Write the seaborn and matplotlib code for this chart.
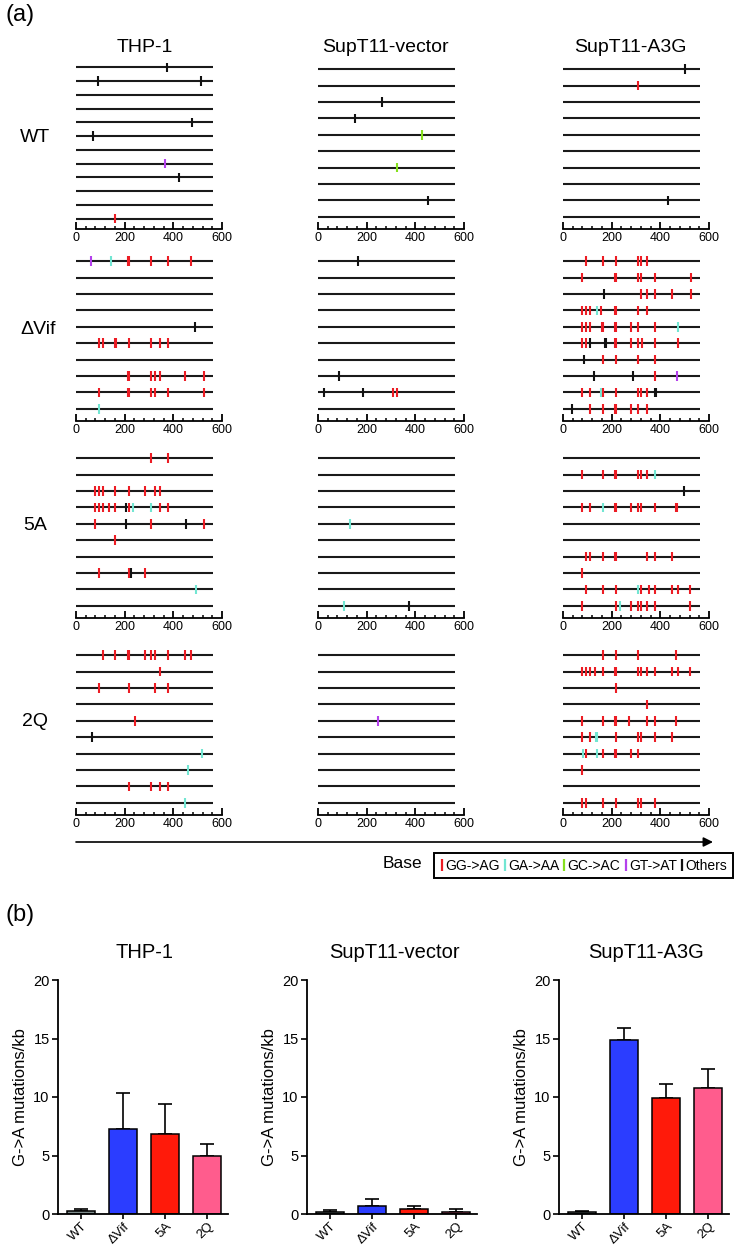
import numpy as np
import pandas as pd
import seaborn as sns
import matplotlib.pyplot as plt
from matplotlib.patches import Rectangle
from matplotlib.ticker import MultipleLocator

sns.set_theme(style="ticks")
plt.rcParams['font.family'] = ['Liberation Sans', 'DejaVu Sans']
plt.rcParams.update({"text.color": "black", "axes.labelcolor": "black",
                     "xtick.color": "black", "ytick.color": "black"})

W, H = 735, 1247

cells = ["THP-1", "SupT11-vector", "SupT11-A3G"]
viruses = ["WT", "ΔVif", "5A", "2Q"]
mut_labels = ["GG->AG", "GA->AA", "GC->AC", "GT->AT", "Others"]
mut_codes = ["r", "c", "g", "p", "k"]
mut_colors = {"r": "#ec1c24", "c": "#72e6d2", "g": "#86e01e", "p": "#b440ec", "k": "#111111"}
clone_len = 565

# (a) mutations found in each sequenced clone: (base position, type code)
thp1_wt = [
    [(375, "k")], [(89, "k"), (514, "k")], [], [], [(476, "k")], [(71, "k")],
    [], [(365, "p")], [(423, "k")], [], [], [(162, "r")],
]
vector_wt = [[], [], [(264, "k")], [(150, "k")], [(428, "g")], [], [(325, "g")], [], [(453, "k")], []]
a3g_wt = [[(503, "k")], [(310, "r")], [], [], [], [], [], [], [(431, "k")], []]

thp1_dvif = [
    [(61, "p"), (142, "c"), (214, "r"), (218, "r"), (310, "r"), (378, "r"), (472, "r")],
    [], [], [],
    [(490, "k")],
    [(95, "r"), (112, "r"), (161, "r"), (166, "r"), (217, "r"), (310, "r"), (344, "r"), (378, "r")],
    [],
    [(214, "r"), (218, "r"), (310, "r"), (323, "r"), (344, "r"), (446, "r"), (524, "r")],
    [(95, "r"), (214, "r"), (218, "r"), (310, "r"), (323, "r"), (378, "r"), (524, "r")],
    [(95, "c")],
]
vector_dvif = [[(165, "k")], [], [], [], [], [], [], [(85, "k")],
               [(25, "k"), (185, "k"), (310, "r"), (323, "r")], []]
a3g_dvif = [
    [(94, "r"), (163, "r"), (216, "r"), (310, "r"), (320, "r"), (344, "r")],
    [(78, "r"), (213, "r"), (216, "r"), (310, "r"), (321, "r"), (379, "r"), (525, "r")],
    [(170, "k"), (321, "r"), (344, "r"), (379, "r"), (448, "r"), (525, "r")],
    [(78, "r"), (94, "r"), (109, "r"), (141, "c"), (158, "r"), (213, "r"), (216, "r"), (310, "r"), (344, "r")],
    [(78, "r"), (94, "r"), (109, "r"), (160, "r"), (164, "r"), (213, "r"), (216, "r"), (280, "r"),
     (310, "r"), (379, "r"), (473, "c")],
    [(78, "r"), (94, "r"), (109, "k"), (171, "k"), (175, "k"), (213, "r"), (216, "r"), (280, "r"),
     (310, "r"), (324, "r"), (379, "r"), (473, "r")],
    [(85, "k"), (163, "r"), (216, "r"), (310, "r"), (379, "r")],
    [(126, "k"), (287, "k"), (379, "r"), (468, "p")],
    [(78, "r"), (109, "r"), (156, "c"), (163, "r"), (216, "r"), (310, "r"), (321, "r"), (344, "r"),
     (379, "k"), (383, "k")],
    [(36, "k"), (109, "r"), (163, "r"), (213, "r"), (216, "r"), (280, "r"), (310, "r"), (344, "r")],
]

thp1_5a = [
    [(310, "r"), (378, "r")],
    [],
    [(79, "r"), (95, "r"), (112, "r"), (161, "r"), (217, "r"), (282, "r"), (325, "r"), (344, "r")],
    [(79, "r"), (95, "r"), (112, "r"), (136, "r"), (161, "r"), (207, "k"), (217, "r"), (235, "c"),
     (310, "c"), (344, "r"), (378, "r")],
    [(79, "r"), (207, "k"), (310, "r"), (454, "k"), (524, "r")],
    [(161, "r")],
    [],
    [(95, "r"), (217, "r"), (228, "k"), (282, "r")],
    [(494, "c")],
    [],
]
vector_5a = [[], [], [], [], [(133, "c")], [], [], [], [], [(106, "c"), (372, "k")]]
a3g_5a = [
    [],
    [(78, "r"), (163, "r"), (213, "r"), (216, "r"), (310, "r"), (320, "r"), (344, "r"), (379, "c")],
    [(498, "k")],
    [(78, "r"), (109, "r"), (164, "c"), (213, "r"), (216, "r"), (280, "r"), (310, "r"), (321, "r"),
     (379, "r"), (465, "r"), (470, "r")],
    [], [],
    [(94, "r"), (109, "r"), (163, "r"), (213, "r"), (216, "r"), (344, "r"), (379, "r"), (447, "r")],
    [(78, "r")],
    [(94, "r"), (163, "r"), (216, "r"), (308, "c"), (320, "r"), (355, "r"), (379, "r"), (447, "r"),
     (473, "r"), (522, "r")],
    [(78, "r"), (216, "r"), (235, "c"), (280, "r"), (310, "r"), (321, "r"), (344, "r"), (379, "r"), (522, "r")],
]

thp1_2q = [
    [(112, "r"), (161, "r"), (214, "r"), (218, "r"), (282, "r"), (310, "r"), (323, "r"), (378, "r"),
     (446, "r"), (472, "r")],
    [(344, "r")],
    [(95, "r"), (217, "r"), (325, "r"), (378, "r")],
    [],
    [(244, "r")],
    [(67, "k")],
    [(517, "c")],
    [(461, "c")],
    [(217, "r"), (310, "r"), (344, "r"), (378, "r")],
    [(449, "c")],
]
vector_2q = [[], [], [], [], [(247, "p")], [], [], [], [], []]
a3g_2q = [
    [(163, "r"), (216, "r"), (310, "r"), (465, "r")],
    [(78, "r"), (94, "r"), (109, "r"), (133, "r"), (163, "r"), (213, "r"), (216, "r"), (310, "r"),
     (321, "r"), (344, "r"), (379, "r"), (447, "r"), (473, "r"), (522, "r")],
    [(216, "r")],
    [(344, "r")],
    [(78, "r"), (163, "r"), (213, "r"), (216, "r"), (271, "r"), (344, "r"), (379, "r"), (465, "r")],
    [(78, "r"), (109, "r"), (135, "c"), (139, "c"), (216, "r"), (310, "r"), (321, "r"), (379, "r"), (447, "r")],
    [(82, "c"), (94, "r"), (141, "c"), (163, "r"), (213, "r"), (216, "r"), (280, "r"), (310, "r")],
    [(78, "r")],
    [],
    [(78, "r"), (94, "r"), (163, "r"), (216, "r"), (310, "r"), (321, "r"), (379, "r")],
]

panels = [
    [thp1_wt, vector_wt, a3g_wt],
    [thp1_dvif, vector_dvif, a3g_dvif],
    [thp1_5a, vector_5a, a3g_5a],
    [thp1_2q, vector_2q, a3g_2q],
]

# (b) G->A mutation frequency (mean, upper error)
thp1_mean = [0.25, 7.3, 6.8, 4.95]
thp1_err = [0.2, 3.05, 2.6, 1.05]
vector_mean = [0.15, 0.7, 0.4, 0.2]
vector_err = [0.2, 0.6, 0.3, 0.2]
a3g_mean = [0.15, 14.85, 9.9, 10.8]
a3g_err = [0.1, 1.05, 1.2, 1.6]
bar_colors = ["#7f8c8c", "#2b3dff", "#ff1a0a", "#ff5c8d"]


def px(x, y, w, h):
    # pixel box (left, bottom y from top, width, height) -> figure fraction
    return [x / W, 1 - y / H, w / W, h / H]


fig = plt.figure(figsize=(W / 100, H / 100), dpi=100)
bg = fig.add_axes([0, 0, 1, 1])
bg.set_xlim(0, W)
bg.set_ylim(H, 0)
bg.axis("off")

# ---- panel (a)
col_left = [76, 318, 563]
col_w = 146
row_spine = [229, 421, 618, 815]
panel_h = 172

for r, row in enumerate(panels):
    for c, clones in enumerate(row):
        ax = fig.add_axes(px(col_left[c], row_spine[r], col_w, panel_h))
        n = len(clones)
        ax.hlines(np.arange(n), 0, clone_len, color="#1a1a1a", lw=1.5, zorder=1)
        recs = [(p, i, t) for i, cl in enumerate(clones) for p, t in cl]
        if recs:
            df = pd.DataFrame(recs, columns=["pos", "clone", "type"])
            ax.scatter(df["pos"], df["clone"], c=[mut_colors[t] for t in df["type"]],
                       marker="|", s=48, linewidths=1.5, zorder=2)
        ax.set_xlim(0, 600)
        ax.set_ylim(n - 0.25, -0.75)
        ax.set_yticks([])
        for s in ["left", "top", "right"]:
            ax.spines[s].set_visible(False)
        ax.spines["bottom"].set_linewidth(1.3)
        ax.spines["bottom"].set_color("black")
        ax.xaxis.set_major_locator(MultipleLocator(200))
        ax.xaxis.set_minor_locator(MultipleLocator(40))
        ax.tick_params(axis="x", which="major", direction="in", length=5, width=1.3,
                       labelsize=9, pad=2)
        ax.tick_params(axis="x", which="minor", direction="in", length=2.5, width=1.1)
        ax.patch.set_alpha(0)

bg.text(20, 15, "(a)", fontsize=17, ha="center", va="center")
for x, name in zip([145, 385, 630], cells):
    bg.text(x, 48, name, fontsize=14, ha="center", va="center")
for y, x, v in zip([138, 330, 525, 722], [35, 38, 35, 35], viruses):
    bg.text(x, y, v, fontsize=14, ha="center", va="center")

bg.annotate("", xy=(713, 842), xytext=(76, 842),
            arrowprops=dict(arrowstyle="-|>", lw=1.2, color="black", mutation_scale=14,
                            shrinkA=0, shrinkB=0))
bg.text(402, 864, "Base", fontsize=12.5, ha="center", va="center")

# legend box drawn by hand: marker then label for each mutation type
bg.add_patch(Rectangle((434, 853), 299, 25, fill=False, edgecolor="black", lw=1.4))
leg_x = [442, 505, 564, 626, 682]
for x, k, lab in zip(leg_x, mut_codes, mut_labels):
    bg.plot([x, x], [859, 871], color=mut_colors[k], lw=1.6, solid_capstyle="butt")
    bg.text(x + 3, 865.5, lab, fontsize=10, ha="left", va="center")

# ---- panel (b)
bar_left = [58, 307, 559]
bar_w = 170
bar_bottom = 1214
bar_h = 234
means = [thp1_mean, vector_mean, a3g_mean]
errs = [thp1_err, vector_err, a3g_err]

bg.text(20, 915, "(b)", fontsize=17, ha="center", va="center")
for c in range(3):
    ax = fig.add_axes(px(bar_left[c], bar_bottom, bar_w, bar_h))
    df = pd.DataFrame({"virus": viruses, "rate": means[c]})
    sns.barplot(data=df, x="virus", y="rate", hue="virus", palette=bar_colors, saturation=1,
                edgecolor="black", linewidth=1.1, width=0.67, legend=False, ax=ax, zorder=2)
    ax.errorbar(np.arange(4), means[c], yerr=[np.zeros(4), errs[c]], fmt="none",
                ecolor="black", elinewidth=1.2, capsize=5, capthick=1.2, zorder=1)
    ax.set_xlim(-0.55, 3.5)
    ax.set_ylim(0, 20)
    ax.set_yticks([0, 5, 10, 15, 20])
    ax.set_xlabel("")
    ax.set_ylabel("G->A mutations/kb", fontsize=12, labelpad=4)
    sns.despine(ax=ax)
    for s in ["left", "bottom"]:
        ax.spines[s].set_linewidth(1.3)
        ax.spines[s].set_color("black")
    ax.tick_params(axis="y", direction="out", length=4, width=1.2, labelsize=10.5, pad=2)
    ax.set_xticks(np.arange(4))
    ax.set_xticklabels(viruses, rotation=45, ha="right", rotation_mode="anchor")
    ax.tick_params(axis="x", direction="out", length=3.5, width=1.2, labelsize=9.5, pad=1)
    ax.patch.set_alpha(0)
    bg.text(bar_left[c] + 87, 953, cells[c], fontsize=14.5, ha="center", va="center")

fig.savefig("out.png", dpi=100)
